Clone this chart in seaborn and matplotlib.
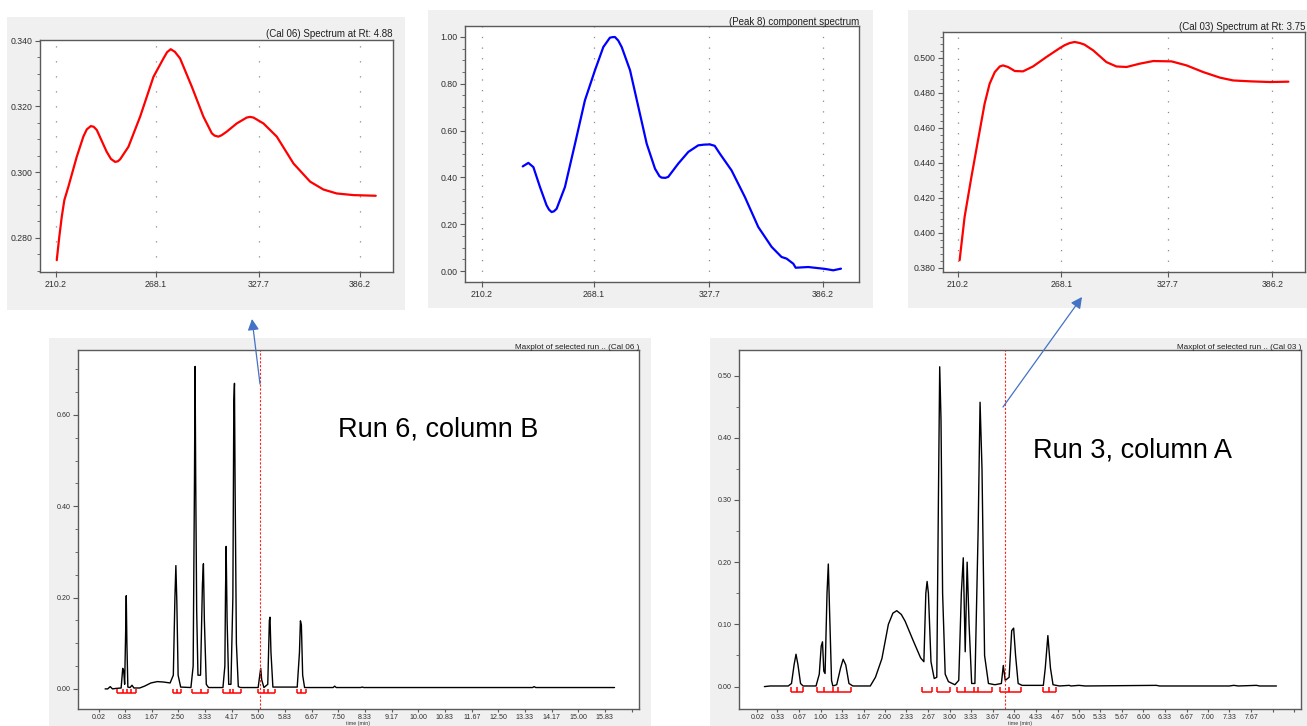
import numpy as np
import pandas as pd
import matplotlib
matplotlib.use("Agg")
import matplotlib.pyplot as plt
import seaborn as sns
from matplotlib.patches import Rectangle, FancyArrowPatch
from matplotlib.ticker import MultipleLocator

# ---------------- data ----------------
# Spectrum at Rt 4.88 (Cal 06)
cal06_wl = [210.6, 212.0, 213.5, 215.0, 217.3, 222.2, 226.0, 228.0, 230.3, 232.0, 233.8, 239.5,
            242.0, 244.4, 246.0, 247.3, 252.1, 258.9, 266.6, 272.4, 274.5, 276.6, 279.0, 282.0,
            288.8, 295.5, 300.4, 302.0, 304.2, 306.0, 309.0, 314.8, 320.6, 322.5, 324.5, 330.3,
            338.0, 347.7, 357.3, 365.0, 372.7, 382.4, 395.3]
cal06_abs = [0.2732, 0.2800, 0.2864, 0.2915, 0.2955, 0.3047, 0.3108, 0.3130, 0.3140, 0.3138,
             0.3128, 0.3062, 0.3040, 0.3031, 0.3033, 0.3039, 0.3077, 0.3169, 0.3290, 0.3346,
             0.3365, 0.3374, 0.3366, 0.3346, 0.3260, 0.3169, 0.3118, 0.3111, 0.3108, 0.3112,
             0.3123, 0.3148, 0.3166, 0.3168, 0.3166, 0.3148, 0.3108, 0.3026, 0.2971, 0.2947,
             0.2935, 0.2930, 0.2928]

# Peak 8 component spectrum
peak8_wl = [231.4, 234.3, 236.9, 240.3, 243.7, 245.0, 246.3, 247.5, 248.9, 253.2, 258.4, 263.5,
            268.7, 273.0, 276.4, 277.5, 279.0, 280.7, 282.5, 286.8, 291.1, 295.4, 299.7, 302.0,
            303.1, 305.0, 306.5, 311.7, 316.9, 322.0, 325.0, 328.0, 330.5, 333.2, 339.2, 346.1,
            353.0, 359.9, 365.0, 367.6, 371.1, 372.3, 378.8, 387.4, 391.7, 395.7]
peak8_abs = [0.447, 0.462, 0.444, 0.359, 0.281, 0.262, 0.252, 0.255, 0.266, 0.359, 0.544, 0.729,
             0.858, 0.957, 0.997, 0.999, 1.000, 0.985, 0.957, 0.858, 0.701, 0.544, 0.437, 0.405,
             0.399, 0.398, 0.402, 0.459, 0.509, 0.537, 0.540, 0.541, 0.535, 0.501, 0.430, 0.316,
             0.188, 0.103, 0.060, 0.053, 0.031, 0.014, 0.017, 0.009, 0.003, 0.010]

# Spectrum at Rt 3.75 (Cal 03)
cal03_wl = [211.1, 213.9, 217.7, 221.4, 225.1, 227.9, 230.8, 233.6, 235.4, 238.2, 242.0, 246.6,
            252.2, 259.7, 267.2, 270.0, 272.8, 275.5, 278.4, 281.0, 285.9, 293.3, 298.9, 304.6,
            312.0, 319.5, 329.8, 338.2, 347.5, 356.9, 364.3, 373.7, 384.9, 395.2]
cal03_abs = [0.3842, 0.4090, 0.4318, 0.4528, 0.4737, 0.4851, 0.4918, 0.4950, 0.4956, 0.4947,
             0.4924, 0.4922, 0.4950, 0.5004, 0.5055, 0.5072, 0.5084, 0.5090, 0.5084, 0.5075,
             0.5042, 0.4975, 0.4950, 0.4947, 0.4966, 0.4981, 0.4979, 0.4956, 0.4918, 0.4886,
             0.4870, 0.4865, 0.4861, 0.4863]

wl_ticks = [210.2, 268.1, 327.7, 386.2]

# Maxplot Run 6, column B (Cal 06)
run6_time = [0.22, 0.30, 0.38, 0.45, 0.55, 0.72, 0.77, 0.80, 0.83, 0.86, 0.88, 0.90, 0.93, 1.00,
             1.06, 1.12, 1.30, 1.45, 1.65, 1.85, 2.05, 2.25, 2.35, 2.40, 2.43, 2.46, 2.50, 2.58,
             2.90, 2.97, 3.01, 3.03, 3.05, 3.08, 3.12, 3.20, 3.26, 3.29, 3.32, 3.38, 3.45, 3.90,
             3.96, 3.98, 4.00, 4.03, 4.08, 4.15, 4.21, 4.24, 4.26, 4.28, 4.32, 4.38, 4.45, 5.00,
             5.05, 5.08, 5.11, 5.18, 5.30, 5.35, 5.37, 5.40, 5.46, 6.22, 6.29, 6.32, 6.35, 6.39,
             6.45, 7.34, 7.39, 7.44, 8.20, 8.25, 8.30, 13.57, 13.62, 13.67, 16.13]
run6_signal = [0.000, 0.000, 0.005, 0.000, 0.001, 0.002, 0.045, 0.040, 0.010, 0.120, 0.204, 0.100,
               0.004, 0.003, 0.008, 0.002, 0.002, 0.006, 0.013, 0.016, 0.015, 0.013, 0.030, 0.200,
               0.270, 0.190, 0.030, 0.004, 0.003, 0.050, 0.450, 0.706, 0.450, 0.170, 0.030, 0.030,
               0.230, 0.274, 0.150, 0.010, 0.003, 0.003, 0.050, 0.210, 0.312, 0.150, 0.010, 0.010,
               0.200, 0.630, 0.669, 0.440, 0.100, 0.005, 0.003, 0.003, 0.030, 0.045, 0.020, 0.003,
               0.010, 0.150, 0.157, 0.080, 0.004, 0.004, 0.080, 0.149, 0.140, 0.030, 0.003, 0.003,
               0.006, 0.003, 0.003, 0.004, 0.003, 0.003, 0.005, 0.003, 0.003]
run6_marks = [[0.60, 0.78, 0.91, 1.02, 1.17], [2.34, 2.46, 2.58], [2.92, 3.21, 3.44],
              [3.91, 4.12, 4.22, 4.45], [5.00, 5.19, 5.31, 5.52], [6.22, 6.35, 6.48]]
run6_rt = 5.06
run6_ticks = [0.02, 0.83, 1.67, 2.50, 3.33, 4.17, 5.00, 5.83, 6.67, 7.50, 8.33, 9.17, 10.00,
              10.83, 11.67, 12.50, 13.33, 14.17, 15.00, 15.83, 16.67]
run6_labels = ["0.02", "0.83", "1.67", "2.50", "3.33", "4.17", "5.00", "5.83", "6.67", "7.50",
               "8.33", "9.17", "10.00", "10.83", "11.67", "12.50", "13.33", "14.17", "15.00",
               "15.83", ""]

# Maxplot Run 3, column A (Cal 03)
run3_time = [0.13, 0.22, 0.50, 0.55, 0.59, 0.62, 0.65, 0.69, 0.73, 0.93, 0.98, 1.01, 1.03, 1.05,
             1.07, 1.10, 1.12, 1.14, 1.17, 1.19, 1.25, 1.31, 1.35, 1.39, 1.44, 1.50, 1.77, 1.85,
             1.95, 2.05, 2.12, 2.18, 2.25, 2.31, 2.43, 2.55, 2.60, 2.63, 2.65, 2.67, 2.71, 2.76,
             2.80, 2.825, 2.845, 2.865, 2.89, 2.93, 2.98, 3.08, 3.14, 3.18, 3.21, 3.24, 3.27,
             3.30, 3.34, 3.39, 3.44, 3.47, 3.50, 3.54, 3.60, 3.70, 3.80, 3.83, 3.86, 3.92, 3.96,
             3.99, 4.02, 4.06, 4.12, 4.45, 4.48, 4.52, 4.56, 4.60, 4.70, 4.85, 4.88, 5.00, 5.10,
             6.20, 6.25, 7.33, 7.40, 7.47, 7.75, 7.80, 8.06]
run3_signal = [0.000, 0.001, 0.001, 0.005, 0.035, 0.052, 0.035, 0.005, 0.001, 0.001, 0.020, 0.065,
               0.072, 0.025, 0.021, 0.150, 0.197, 0.120, 0.010, 0.001, 0.003, 0.030, 0.044, 0.035,
               0.005, 0.001, 0.001, 0.015, 0.045, 0.100, 0.118, 0.122, 0.116, 0.105, 0.075, 0.046,
               0.040, 0.150, 0.169, 0.150, 0.040, 0.013, 0.015, 0.300, 0.514, 0.430, 0.150, 0.020,
               0.008, 0.003, 0.010, 0.150, 0.207, 0.056, 0.200, 0.100, 0.005, 0.005, 0.250, 0.457,
               0.350, 0.050, 0.005, 0.003, 0.005, 0.034, 0.010, 0.015, 0.090, 0.094, 0.050, 0.005,
               0.002, 0.002, 0.030, 0.082, 0.030, 0.003, 0.001, 0.002, 0.001, 0.002, 0.001, 0.002,
               0.001, 0.001, 0.002, 0.001, 0.002, 0.001, 0.001]
run3_marks = [[0.54, 0.64, 0.73], [0.95, 1.06, 1.19, 1.27, 1.47], [2.57, 2.73], [2.80, 3.01],
              [3.12, 3.24, 3.38, 3.44, 3.66], [3.78, 3.92, 4.11], [4.44, 4.54, 4.64]]
run3_rt = 3.85
run3_ticks = [0.02, 0.33, 0.67, 1.00, 1.33, 1.67, 2.00, 2.33, 2.67, 3.00, 3.33, 3.67, 4.00, 4.33,
              4.67, 5.00, 5.33, 5.67, 6.00, 6.33, 6.67, 7.00, 7.33, 7.67, 8.00, 8.33]
run3_labels = ["0.02", "0.33", "0.67", "1.00", "1.33", "1.67", "2.00", "2.33", "2.67", "3.00",
               "3.33", "3.67", "4.00", "4.33", "4.67", "5.00", "5.33", "5.67", "6.00", "6.33",
               "6.67", "7.00", "7.33", "7.67", "", ""]

# ---------------- figure ----------------
sns.set_theme(style="ticks")
plt.rcParams['font.family'] = ['Liberation Sans', 'DejaVu Sans']

W, H = 1307, 726
fig = plt.figure(figsize=(W / 100, H / 100), dpi=100)
fig.patch.set_facecolor('white')

def fbox(l, t, r, b):
    return [l / W, 1 - b / H, (r - l) / W, (b - t) / H]

# grey panel backgrounds
for (l, t, r, b) in [(7, 17, 405, 310), (428, 10, 873, 308), (908, 10, 1307, 308),
                     (49, 338, 651, 726), (710, 338, 1307, 726)]:
    fig.patches.append(Rectangle((l / W, 1 - b / H), (r - l) / W, (b - t) / H,
                                 transform=fig.transFigure, facecolor='#f0f0f0',
                                 edgecolor='none', zorder=-10))

SPINE = '#5a5a5a'

def style(ax, xticks, xlabels, yticks, yfmt, yminor, fs, xlim, ylim, tlen=3.5, tpad=2):
    ax.set_facecolor('white')
    for s in ax.spines.values():
        s.set_visible(True)
        s.set_color(SPINE)
        s.set_linewidth(1.0)
    ax.set_xticks(xticks)
    ax.set_xticklabels(xlabels)
    ax.set_yticks(yticks)
    ax.set_yticklabels([yfmt.format(v) for v in yticks])
    ax.yaxis.set_minor_locator(MultipleLocator(yminor))
    ax.tick_params(axis='both', which='major', direction='out', length=3.5, width=0.8,
                   color=SPINE, labelsize=fs, labelcolor='#303030', pad=2,
                   bottom=True, left=True, top=False, right=False)
    ax.tick_params(axis='x', which='major', length=tlen, pad=tpad)
    ax.tick_params(axis='y', which='minor', direction='out', length=2, width=0.6,
                   color=SPINE, left=True)
    ax.tick_params(axis='x', which='minor', bottom=False)
    ax.set_xlim(*xlim)
    ax.set_ylim(*ylim)
    ax.set_xlabel('')
    ax.set_ylabel('')

def spectrum(box, wl, ab, color, title, yticks, yfmt, yminor, xlim, ylim, dots, pad):
    ax = fig.add_axes(fbox(*box))
    df = pd.DataFrame({'wl': wl, 'abs': ab})
    sns.lineplot(data=df, x='wl', y='abs', ax=ax, color=color, lw=1.6, estimator=None)
    style(ax, wl_ticks, [f"{v:.1f}" for v in wl_ticks], yticks, yfmt, yminor, 6.3, xlim, ylim)
    ax.grid(axis='x', which='major', color='#8a8a8a', lw=0.9, linestyle=(0, (1, dots)))
    ax.set_title(title, loc='right', fontsize=7, pad=pad, color='#202020')
    return ax

spectrum((40, 40, 393, 272), cal06_wl, cal06_abs, '#ff0000', '(Cal 06) Spectrum at Rt: 4.88',
         [0.280, 0.300, 0.320, 0.340], "{:.3f}", 0.005, (200.9, 405.3), (0.2696, 0.3402), 11, 2.0)
spectrum((465, 26, 859, 282), peak8_wl, peak8_abs, '#0000ff', '(Peak 8) component spectrum',
         [0.0, 0.2, 0.4, 0.6, 0.8, 1.0], "{:.2f}", 0.05, (201.6, 405.0), (-0.047, 1.047), 7.5, 1.0)
spectrum((943, 32, 1305, 272), cal03_wl, cal03_abs, '#ff0000', '(Cal 03) Spectrum at Rt: 3.75',
         [0.38, 0.40, 0.42, 0.44, 0.46, 0.48, 0.50], "{:.3f}", 0.004, (201.8, 404.5),
         (0.3775, 0.5147), 7.5, 1.5)

def maxplot(box, t, sig, marks, rt, ticks, labels, yticks, xlim, ylim, title, mark_y, text, tpos):
    ax = fig.add_axes(fbox(*box))
    df = pd.DataFrame({'time': t, 'signal': sig})
    sns.lineplot(data=df, x='time', y='signal', ax=ax, color='black', lw=1.0, estimator=None)
    style(ax, ticks, labels, yticks, "{:.2f}", 0.05, 5.1, xlim, ylim, tlen=2.5, tpad=1.2)
    for grp in marks:
        ax.hlines(mark_y[0], grp[0], grp[-1], color='#ff0000', lw=1.1)
        ax.vlines(grp, mark_y[0], mark_y[1], color='#ff0000', lw=1.1)
    ax.axvline(rt, color='#ff2020', lw=0.8, linestyle=(0, (2, 1.5)))
    ax.set_title(title, loc='right', fontsize=5.9, pad=1.0, color='#202020')
    ax.set_xlabel('time (min)', fontsize=3.8, labelpad=0.0, color='#303030')
    fig.text(tpos[0] / W, 1 - tpos[1] / H, text, fontsize=19.5, family='Liberation Sans',
             ha='left', va='center', color='black')
    return ax

maxplot((78, 350, 639, 709), run6_time, run6_signal, run6_marks, run6_rt, run6_ticks, run6_labels,
        [0.0, 0.2, 0.4, 0.6], (-0.627, 16.895), (-0.044, 0.742),
        'Maxplot of selected run .. (Cal 06 )', (-0.009, 0.0), 'Run 6, column B', (338, 430))
maxplot((739, 350, 1301, 709), run3_time, run3_signal, run3_marks, run3_rt, run3_ticks, run3_labels,
        [0.0, 0.1, 0.2, 0.3, 0.4, 0.5], (-0.263, 8.44), (-0.036, 0.541),
        'Maxplot of selected run .. (Cal 03 )', (-0.0085, -0.001), 'Run 3, column A', (1033, 450))

# connecting arrows
for (x1, y1, x2, y2) in [(260, 384, 252, 319), (1003, 407, 1082, 297)]:
    fig.add_artist(FancyArrowPatch((x1 / W, 1 - y1 / H), (x2 / W, 1 - y2 / H),
                                   transform=fig.transFigure,
                                   arrowstyle='-|>,head_length=0.55,head_width=0.28',
                                   mutation_scale=12, color='#4472c4', lw=0.9,
                                   shrinkA=0, shrinkB=0))

fig.savefig('out.png', dpi=100)
